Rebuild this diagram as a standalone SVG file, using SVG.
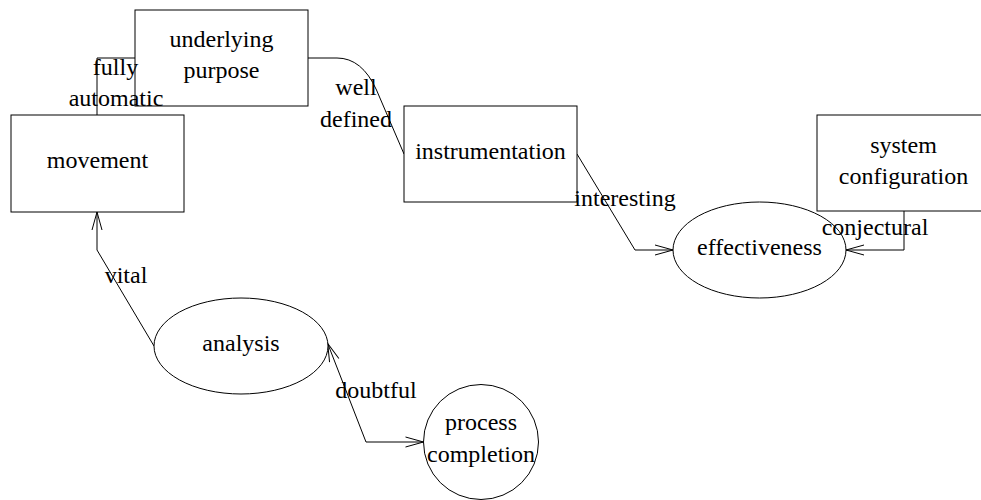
<svg xmlns="http://www.w3.org/2000/svg" width="981" height="500" viewBox="0 0 981 500">
<defs>
<style>
.n{fill:#fff;stroke:#000;stroke-width:1}
.t{font-family:"Liberation Serif","Times New Roman",serif;font-size:24px;fill:#000;text-anchor:middle}
.e{fill:none;stroke:#000;stroke-width:1}
</style>
<marker id="a" markerUnits="userSpaceOnUse" markerWidth="24" markerHeight="14" viewBox="-20 -7 24 14" refX="0" refY="0" orient="auto-start-reverse">
<path d="M-18,-5 L0,0 L-18,5" fill="none" stroke="#000" stroke-width="1"/>
</marker>
</defs>
<rect width="981" height="500" fill="#fff"/>
<g id="edges">
<path class="e" d="M97,115 L97,58 L135,58"/>
<path class="e" d="M308,58 L337,58 Q362,58 376.5,90 L404,154"/>
<path class="e" d="M577,154 L635,250 L673,250" marker-end="url(#a)"/>
<path class="e" d="M904,211 L904,250 L846,250" marker-end="url(#a)"/>
<path class="e" d="M154,346 L97,250 L97,212" marker-end="url(#a)"/>
<path class="e" d="M327.7,343.5 L366,442 L423.5,442" marker-start="url(#a)" marker-end="url(#a)"/>
</g>
<g id="underlying-purpose"><rect class="n" x="135" y="10" width="173" height="96"/><text class="t" x="221.5" y="47">underlying</text><text class="t" x="221.5" y="78">purpose</text></g>
<g id="movement"><rect class="n" x="11" y="115" width="173" height="97"/><text class="t" x="97.5" y="168">movement</text></g>
<g id="instrumentation"><rect class="n" x="404" y="106" width="173" height="96"/><text class="t" x="490.5" y="159">instrumentation</text></g>
<g id="system-configuration"><rect class="n" x="817" y="115" width="173" height="96"/><text class="t" x="903.5" y="153">system</text><text class="t" x="903.5" y="184">configuration</text></g>
<g id="effectiveness"><ellipse class="n" cx="759.5" cy="250" rx="86.5" ry="48"/><text class="t" x="759.5" y="255">effectiveness</text></g>
<g id="analysis"><ellipse class="n" cx="241" cy="346" rx="87" ry="48"/><text class="t" x="241" y="351">analysis</text></g>
<g id="process-completion"><circle class="n" cx="481" cy="442" r="57.5"/><text class="t" x="481" y="430">process</text><text class="t" x="481" y="462">completion</text></g>
<g id="labels">
<text class="t" x="115.5" y="75">fully</text>
<text class="t" x="116" y="106">automatic</text>
<text class="t" x="356" y="95">well</text>
<text class="t" x="356" y="127">defined</text>
<text class="t" x="625" y="206">interesting</text>
<text class="t" x="875" y="235">conjectural</text>
<text class="t" x="126" y="283">vital</text>
<text class="t" x="376" y="398">doubtful</text>
</g>
</svg>
